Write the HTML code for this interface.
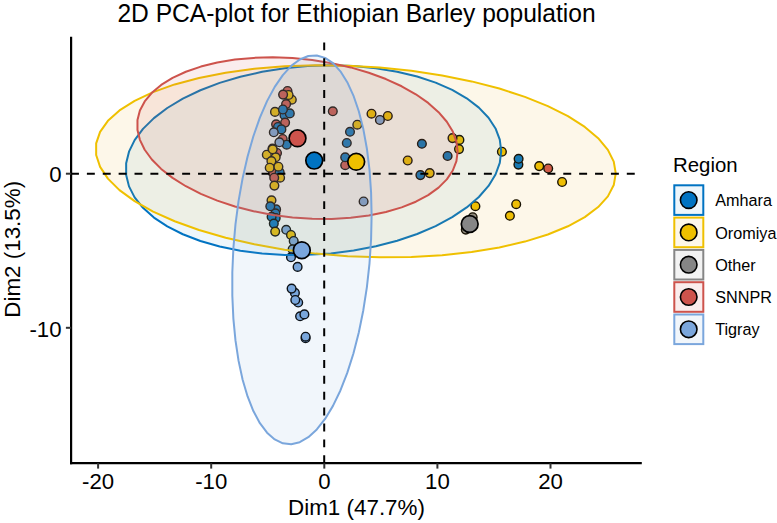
<!DOCTYPE html>
<html><head><meta charset="utf-8"><style>html,body{margin:0;padding:0;background:#fff;width:777px;height:523px;overflow:hidden;position:relative}</style></head>
<body>
<svg width="777" height="523" viewBox="0 0 777 523" style="position:absolute;left:0;top:0">
<rect width="777" height="523" fill="#fff"/>
<circle cx="287.5" cy="91" r="4.35" fill="#CD534C" stroke="#000" stroke-width="1.4"/>
<circle cx="291.8" cy="99.7" r="4.35" fill="#EFC000" stroke="#000" stroke-width="1.4"/>
<circle cx="288.6" cy="95.0" r="4.35" fill="#EFC000" stroke="#000" stroke-width="1.4"/>
<circle cx="283.1" cy="94.6" r="4.35" fill="#CD534C" stroke="#000" stroke-width="1.4"/>
<circle cx="286.1" cy="104.1" r="4.35" fill="#CD534C" stroke="#000" stroke-width="1.4"/>
<circle cx="284.5" cy="115.2" r="4.35" fill="#0073C2" stroke="#000" stroke-width="1.4"/>
<circle cx="275.0" cy="111.9" r="4.35" fill="#EFC000" stroke="#000" stroke-width="1.4"/>
<circle cx="289.8" cy="113.4" r="4.35" fill="#0073C2" stroke="#000" stroke-width="1.4"/>
<circle cx="282.9" cy="109.5" r="4.35" fill="#0073C2" stroke="#000" stroke-width="1.4"/>
<circle cx="276.1" cy="124.3" r="4.35" fill="#CD534C" stroke="#000" stroke-width="1.4"/>
<circle cx="285.1" cy="122.6" r="4.35" fill="#CD534C" stroke="#000" stroke-width="1.4"/>
<circle cx="278.0" cy="127.0" r="4.35" fill="#0073C2" stroke="#000" stroke-width="1.4"/>
<circle cx="281.4" cy="129.4" r="4.35" fill="#0073C2" stroke="#000" stroke-width="1.4"/>
<circle cx="273.8" cy="132.3" r="4.35" fill="#7AA6DC" stroke="#000" stroke-width="1.4"/>
<circle cx="282.7" cy="139.0" r="4.35" fill="#CD534C" stroke="#000" stroke-width="1.4"/>
<circle cx="286.7" cy="144.7" r="4.35" fill="#0073C2" stroke="#000" stroke-width="1.4"/>
<circle cx="279.4" cy="142.3" r="4.35" fill="#7AA6DC" stroke="#000" stroke-width="1.4"/>
<circle cx="277.0" cy="153.0" r="4.35" fill="#CD534C" stroke="#000" stroke-width="1.4"/>
<circle cx="272.5" cy="148.6" r="4.35" fill="#EFC000" stroke="#000" stroke-width="1.4"/>
<circle cx="275.7" cy="157.3" r="4.35" fill="#EFC000" stroke="#000" stroke-width="1.4"/>
<circle cx="266.8" cy="154.7" r="4.35" fill="#EFC000" stroke="#000" stroke-width="1.4"/>
<circle cx="272.7" cy="149.3" r="4.35" fill="#EFC000" stroke="#000" stroke-width="1.4"/>
<circle cx="273.0" cy="173.0" r="4.35" fill="#CD534C" stroke="#000" stroke-width="1.4"/>
<circle cx="279.7" cy="172.4" r="4.35" fill="#0073C2" stroke="#000" stroke-width="1.4"/>
<circle cx="271.4" cy="161.1" r="4.35" fill="#EFC000" stroke="#000" stroke-width="1.4"/>
<circle cx="269.7" cy="167.7" r="4.35" fill="#EFC000" stroke="#000" stroke-width="1.4"/>
<circle cx="278.4" cy="166.7" r="4.35" fill="#EFC000" stroke="#000" stroke-width="1.4"/>
<circle cx="280.1" cy="177.7" r="4.35" fill="#EFC000" stroke="#000" stroke-width="1.4"/>
<circle cx="274.2" cy="177.7" r="4.35" fill="#CD534C" stroke="#000" stroke-width="1.4"/>
<circle cx="274.4" cy="185.6" r="4.35" fill="#EFC000" stroke="#000" stroke-width="1.4"/>
<circle cx="271.5" cy="200.3" r="4.35" fill="#EFC000" stroke="#000" stroke-width="1.4"/>
<circle cx="276.1" cy="209.4" r="4.35" fill="#0073C2" stroke="#000" stroke-width="1.4"/>
<circle cx="275.4" cy="213.4" r="4.35" fill="#0073C2" stroke="#000" stroke-width="1.4"/>
<circle cx="270.3" cy="206.3" r="4.35" fill="#0073C2" stroke="#000" stroke-width="1.4"/>
<circle cx="275.7" cy="218.1" r="4.35" fill="#0073C2" stroke="#000" stroke-width="1.4"/>
<circle cx="271.6" cy="216.8" r="4.35" fill="#0073C2" stroke="#000" stroke-width="1.4"/>
<circle cx="273.8" cy="223.6" r="4.35" fill="#0073C2" stroke="#000" stroke-width="1.4"/>
<circle cx="275.2" cy="231.6" r="4.35" fill="#EFC000" stroke="#000" stroke-width="1.4"/>
<circle cx="286.2" cy="229.8" r="4.35" fill="#7AA6DC" stroke="#000" stroke-width="1.4"/>
<circle cx="291.0" cy="235.0" r="4.35" fill="#EFC000" stroke="#000" stroke-width="1.4"/>
<circle cx="293.7" cy="241.0" r="4.35" fill="#7AA6DC" stroke="#000" stroke-width="1.4"/>
<circle cx="292.6" cy="249.4" r="4.35" fill="#7AA6DC" stroke="#000" stroke-width="1.4"/>
<circle cx="291.0" cy="257.3" r="4.35" fill="#7AA6DC" stroke="#000" stroke-width="1.4"/>
<circle cx="297.6" cy="266.9" r="4.35" fill="#7AA6DC" stroke="#000" stroke-width="1.4"/>
<circle cx="294.9" cy="292.9" r="4.35" fill="#7AA6DC" stroke="#000" stroke-width="1.4"/>
<circle cx="291.6" cy="288.6" r="4.35" fill="#7AA6DC" stroke="#000" stroke-width="1.4"/>
<circle cx="298.2" cy="302.5" r="4.35" fill="#7AA6DC" stroke="#000" stroke-width="1.4"/>
<circle cx="295.3" cy="300.0" r="4.35" fill="#7AA6DC" stroke="#000" stroke-width="1.4"/>
<circle cx="300.1" cy="316.3" r="4.35" fill="#7AA6DC" stroke="#000" stroke-width="1.4"/>
<circle cx="304.4" cy="314.4" r="4.35" fill="#7AA6DC" stroke="#000" stroke-width="1.4"/>
<circle cx="305.6" cy="338.2" r="4.35" fill="#7AA6DC" stroke="#000" stroke-width="1.4"/>
<circle cx="305.6" cy="336.7" r="4.35" fill="#7AA6DC" stroke="#000" stroke-width="1.4"/>
<circle cx="332.8" cy="111.3" r="4.35" fill="#CD534C" stroke="#000" stroke-width="1.4"/>
<circle cx="357.3" cy="124.7" r="4.35" fill="#EFC000" stroke="#000" stroke-width="1.4"/>
<circle cx="350.0" cy="131.8" r="4.35" fill="#0073C2" stroke="#000" stroke-width="1.4"/>
<circle cx="346.8" cy="143.0" r="4.35" fill="#0073C2" stroke="#000" stroke-width="1.4"/>
<circle cx="371.5" cy="113.7" r="4.35" fill="#EFC000" stroke="#000" stroke-width="1.4"/>
<circle cx="387.8" cy="116.0" r="4.35" fill="#EFC000" stroke="#000" stroke-width="1.4"/>
<circle cx="379.9" cy="120.0" r="4.35" fill="#7AA6DC" stroke="#000" stroke-width="1.4"/>
<circle cx="345.2" cy="165.2" r="4.35" fill="#CD534C" stroke="#000" stroke-width="1.4"/>
<circle cx="345.2" cy="157.3" r="4.35" fill="#0073C2" stroke="#000" stroke-width="1.4"/>
<circle cx="363.6" cy="201.5" r="4.35" fill="#7AA6DC" stroke="#000" stroke-width="1.4"/>
<circle cx="421.9" cy="143.8" r="4.35" fill="#0073C2" stroke="#000" stroke-width="1.4"/>
<circle cx="407.7" cy="160.5" r="4.35" fill="#EFC000" stroke="#000" stroke-width="1.4"/>
<circle cx="447.6" cy="156.0" r="4.35" fill="#0073C2" stroke="#000" stroke-width="1.4"/>
<circle cx="459.4" cy="139.9" r="4.35" fill="#EFC000" stroke="#000" stroke-width="1.4"/>
<circle cx="452.5" cy="138.1" r="4.35" fill="#EFC000" stroke="#000" stroke-width="1.4"/>
<circle cx="459.0" cy="149.1" r="4.35" fill="#EFC000" stroke="#000" stroke-width="1.4"/>
<circle cx="420.4" cy="175.1" r="4.35" fill="#0073C2" stroke="#000" stroke-width="1.4"/>
<circle cx="429.7" cy="173.1" r="4.35" fill="#EFC000" stroke="#000" stroke-width="1.4"/>
<circle cx="475.4" cy="206.2" r="4.35" fill="#EFC000" stroke="#000" stroke-width="1.4"/>
<circle cx="472.7" cy="217.2" r="4.35" fill="#868686" stroke="#000" stroke-width="1.4"/>
<circle cx="465.8" cy="229.6" r="4.35" fill="#868686" stroke="#000" stroke-width="1.4"/>
<circle cx="501.9" cy="151.7" r="4.35" fill="#EFC000" stroke="#000" stroke-width="1.4"/>
<circle cx="518.4" cy="164.6" r="4.35" fill="#0073C2" stroke="#000" stroke-width="1.4"/>
<circle cx="518.6" cy="158.8" r="4.35" fill="#0073C2" stroke="#000" stroke-width="1.4"/>
<circle cx="539.2" cy="166.1" r="4.35" fill="#EFC000" stroke="#000" stroke-width="1.4"/>
<circle cx="548.2" cy="168.5" r="4.35" fill="#CD534C" stroke="#000" stroke-width="1.4"/>
<circle cx="562.1" cy="182.0" r="4.35" fill="#EFC000" stroke="#000" stroke-width="1.4"/>
<circle cx="516.2" cy="204.2" r="4.35" fill="#EFC000" stroke="#000" stroke-width="1.4"/>
<circle cx="509.9" cy="215.8" r="4.35" fill="#EFC000" stroke="#000" stroke-width="1.4"/>
<polygon points="501.20,151.22 499.78,139.69 495.53,128.46 488.53,117.71 478.87,107.61 466.70,98.31 452.21,89.94 435.62,82.64 417.18,76.52 397.17,71.66 375.88,68.15 353.66,66.03 330.82,65.34 307.72,66.08 284.71,68.26 262.13,71.82 240.34,76.73 219.65,82.90 200.38,90.25 182.84,98.65 167.27,107.99 153.91,118.12 142.98,128.88 134.63,140.12 129.00,151.67 126.16,163.35 126.16,174.97 129.00,186.38 134.63,197.38 142.98,207.83 153.91,217.55 167.27,226.40 182.84,234.25 200.38,240.97 219.65,246.47 240.34,250.67 262.13,253.49 284.71,254.90 307.72,254.87 330.82,253.41 353.66,250.53 375.88,246.29 397.17,240.74 417.18,233.97 435.62,226.08 452.21,217.19 466.70,207.44 478.87,196.97 488.53,185.94 495.53,174.53 499.78,162.90" fill="#0073C2" fill-opacity="0.065" stroke="#0073C2" stroke-width="2.0" stroke-linejoin="round"/>
<polygon points="615.73,173.46 613.76,161.65 607.88,149.84 598.17,138.20 584.79,126.92 567.94,116.15 547.87,106.07 524.88,96.83 499.33,88.56 471.61,81.40 442.12,75.44 411.33,70.79 379.69,67.51 347.69,65.66 315.81,65.25 284.54,66.30 254.34,68.79 225.68,72.68 199.00,77.91 174.68,84.41 153.11,92.07 134.62,100.79 119.47,110.42 107.90,120.82 100.10,131.84 96.16,143.30 96.16,155.03 100.10,166.87 107.90,178.61 119.47,190.09 134.62,201.14 153.11,211.58 174.68,221.27 199.00,230.04 225.68,237.77 254.34,244.34 284.54,249.65 315.81,253.62 347.69,256.20 379.69,257.33 411.33,257.01 442.12,255.24 471.61,252.04 499.33,247.47 524.88,241.59 547.87,234.50 567.94,226.29 584.79,217.10 598.17,207.07 607.88,196.34 613.76,185.08" fill="#EBAF23" fill-opacity="0.1" stroke="#EFC000" stroke-width="2.0" stroke-linejoin="round"/>
<polygon points="457.64,151.44 456.42,141.54 452.80,131.59 446.82,121.74 438.57,112.14 428.19,102.94 415.82,94.27 401.65,86.26 385.91,79.04 368.82,72.72 350.66,67.40 331.68,63.14 312.18,60.02 292.47,58.09 272.82,57.37 253.55,57.88 234.94,59.61 217.28,62.52 200.84,66.59 185.85,71.74 172.56,77.89 161.16,84.96 151.83,92.84 144.70,101.41 139.89,110.53 137.47,120.07 137.47,129.89 139.89,139.84 144.70,149.75 151.83,159.50 161.16,168.92 172.56,177.87 185.85,186.23 200.84,193.85 217.28,200.63 234.94,206.47 253.55,211.27 272.82,214.96 292.47,217.49 312.18,218.82 331.68,218.92 350.66,217.81 368.82,215.48 385.91,211.98 401.65,207.37 415.82,201.71 428.19,195.08 438.57,187.59 446.82,179.35 452.80,170.49 456.42,161.14" fill="#CD534C" fill-opacity="0.1" stroke="#CD534C" stroke-width="2.0" stroke-linejoin="round"/>
<polygon points="371.61,215.57 371.08,192.31 369.51,169.92 366.90,148.74 363.32,129.09 358.80,111.27 353.42,95.55 347.26,82.17 340.41,71.33 332.97,63.19 325.07,57.89 316.81,55.49 308.33,56.04 299.75,59.53 291.21,65.90 282.82,75.06 274.73,86.86 267.04,101.14 259.89,117.67 253.37,136.21 247.59,156.46 242.63,178.13 238.57,200.89 235.47,224.39 233.37,248.27 232.32,272.18 232.32,295.75 233.37,318.62 235.47,340.44 238.57,360.90 242.63,379.67 247.59,396.47 253.37,411.05 259.89,423.18 267.04,432.69 274.73,439.42 282.82,443.28 291.21,444.20 299.75,442.18 308.33,437.24 316.81,429.46 325.07,418.96 332.97,405.89 340.41,390.46 347.26,372.90 353.42,353.46 358.80,332.46 363.32,310.20 366.90,287.03 369.51,263.30 371.08,239.36" fill="#7AA6DC" fill-opacity="0.1" stroke="#7AA6DC" stroke-width="2.0" stroke-linejoin="round"/>
<circle cx="314.2" cy="160.6" r="8.4" fill="#0073C2" stroke="#000" stroke-width="1.7"/>
<circle cx="356.2" cy="161.8" r="8.4" fill="#EFC000" stroke="#000" stroke-width="1.7"/>
<circle cx="469.7" cy="224.0" r="8.4" fill="#868686" stroke="#000" stroke-width="1.7"/>
<circle cx="297.5" cy="138.3" r="8.4" fill="#CD534C" stroke="#000" stroke-width="1.7"/>
<circle cx="301.8" cy="250.2" r="8.4" fill="#7AA6DC" stroke="#000" stroke-width="1.7"/>
<line x1="71" y1="173.7" x2="641.8" y2="173.7" stroke="#000" stroke-width="2" stroke-dasharray="7.94 7.94"/>
<line x1="324.2" y1="463.2" x2="324.2" y2="36.8" stroke="#000" stroke-width="2" stroke-dasharray="7.94 7.94"/>
<line x1="71.1" y1="36.8" x2="71.1" y2="464.3" stroke="#000" stroke-width="2.2"/>
<line x1="70" y1="463.2" x2="641.8" y2="463.2" stroke="#000" stroke-width="2.2"/>
<line x1="98.1" y1="463.2" x2="98.1" y2="468.6" stroke="#333" stroke-width="2"/>
<line x1="211.2" y1="463.2" x2="211.2" y2="468.6" stroke="#333" stroke-width="2"/>
<line x1="324.3" y1="463.2" x2="324.3" y2="468.6" stroke="#333" stroke-width="2"/>
<line x1="437.4" y1="463.2" x2="437.4" y2="468.6" stroke="#333" stroke-width="2"/>
<line x1="550.5" y1="463.2" x2="550.5" y2="468.6" stroke="#333" stroke-width="2"/>
<line x1="65.9" y1="173.7" x2="71.1" y2="173.7" stroke="#333" stroke-width="2"/>
<line x1="65.9" y1="327.8" x2="71.1" y2="327.8" stroke="#333" stroke-width="2"/>
<text transform="translate(98.10 488.60) scale(1 1.02)" font-family="Liberation Sans, sans-serif" font-size="22.2" text-anchor="middle" fill="#000">-20</text>
<text transform="translate(211.20 488.60) scale(1 1.02)" font-family="Liberation Sans, sans-serif" font-size="22.2" text-anchor="middle" fill="#000">-10</text>
<text transform="translate(324.30 488.60) scale(1 1.02)" font-family="Liberation Sans, sans-serif" font-size="22.2" text-anchor="middle" fill="#000">0</text>
<text transform="translate(437.40 488.60) scale(1 1.02)" font-family="Liberation Sans, sans-serif" font-size="22.2" text-anchor="middle" fill="#000">10</text>
<text transform="translate(550.50 488.60) scale(1 1.02)" font-family="Liberation Sans, sans-serif" font-size="22.2" text-anchor="middle" fill="#000">20</text>
<text transform="translate(61.50 182.40) scale(1 1.02)" font-family="Liberation Sans, sans-serif" font-size="22.2" text-anchor="end" fill="#000">0</text>
<text transform="translate(61.50 336.50) scale(1 1.02)" font-family="Liberation Sans, sans-serif" font-size="22.2" text-anchor="end" fill="#000">-10</text>
<text transform="translate(356.50 21.70) scale(1 1.02)" font-family="Liberation Sans, sans-serif" font-size="24.6" text-anchor="middle" fill="#000">2D PCA-plot for Ethiopian Barley population</text>
<text transform="translate(356.50 514.90) scale(1 1.02)" font-family="Liberation Sans, sans-serif" font-size="22.4" text-anchor="middle" fill="#000">Dim1 (47.7%)</text>
<text transform="translate(19.90 249.30) rotate(-90) scale(1 1.02)" font-family="Liberation Sans, sans-serif" font-size="22.4" text-anchor="middle" fill="#000">Dim2 (13.5%)</text>
<text transform="translate(673.00 171.90) scale(1 1.02)" font-family="Liberation Sans, sans-serif" font-size="20.4" text-anchor="start" fill="#000">Region</text>
<rect x="674.3" y="185.3" width="29" height="29.6" fill="#fff"/>
<rect x="674.3" y="185.3" width="29" height="29.6" fill="#0073C2" fill-opacity="0.065" stroke="#0073C2" stroke-width="2"/>
<circle cx="688.7" cy="200.1" r="8.3" fill="#0073C2" stroke="#000" stroke-width="1.6"/>
<text transform="translate(715.20 206.20) scale(1 1.02)" font-family="Liberation Sans, sans-serif" font-size="16.2" text-anchor="start" fill="#000">Amhara</text>
<rect x="674.3" y="217.6" width="29" height="29.6" fill="#fff"/>
<rect x="674.3" y="217.6" width="29" height="29.6" fill="#EBAF23" fill-opacity="0.1" stroke="#EFC000" stroke-width="2"/>
<circle cx="688.7" cy="232.4" r="8.3" fill="#EFC000" stroke="#000" stroke-width="1.6"/>
<text transform="translate(715.20 238.50) scale(1 1.02)" font-family="Liberation Sans, sans-serif" font-size="16.2" text-anchor="start" fill="#000">Oromiya</text>
<rect x="674.3" y="249.9" width="29" height="29.6" fill="#fff"/>
<rect x="674.3" y="249.9" width="29" height="29.6" fill="#868686" fill-opacity="0.1" stroke="#868686" stroke-width="2"/>
<circle cx="688.7" cy="264.7" r="8.3" fill="#868686" stroke="#000" stroke-width="1.6"/>
<text transform="translate(715.20 270.80) scale(1 1.02)" font-family="Liberation Sans, sans-serif" font-size="16.2" text-anchor="start" fill="#000">Other</text>
<rect x="674.3" y="282.2" width="29" height="29.6" fill="#fff"/>
<rect x="674.3" y="282.2" width="29" height="29.6" fill="#CD534C" fill-opacity="0.1" stroke="#CD534C" stroke-width="2"/>
<circle cx="688.7" cy="297.0" r="8.3" fill="#CD534C" stroke="#000" stroke-width="1.6"/>
<text transform="translate(715.20 303.10) scale(1 1.02)" font-family="Liberation Sans, sans-serif" font-size="16.2" text-anchor="start" fill="#000">SNNPR</text>
<rect x="674.3" y="314.5" width="29" height="29.6" fill="#fff"/>
<rect x="674.3" y="314.5" width="29" height="29.6" fill="#7AA6DC" fill-opacity="0.1" stroke="#7AA6DC" stroke-width="2"/>
<circle cx="688.7" cy="329.3" r="8.3" fill="#7AA6DC" stroke="#000" stroke-width="1.6"/>
<text transform="translate(715.20 335.40) scale(1 1.02)" font-family="Liberation Sans, sans-serif" font-size="16.2" text-anchor="start" fill="#000">Tigray</text>
</svg>
</body></html>
